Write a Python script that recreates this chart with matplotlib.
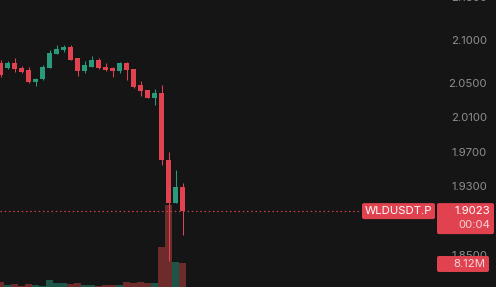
import numpy as np
import matplotlib.pyplot as plt
from matplotlib.patches import FancyBboxPatch

# candles (price)
opens  = [2.0741, 2.0683, 2.0741, 2.0683, 2.0660, 2.0521, 2.0556, 2.0683, 2.0846,
          2.0892, 2.0927, 2.0799, 2.0648, 2.0695, 2.0776, 2.0695, 2.0683, 2.0648,
          2.0741, 2.0672, 2.0486, 2.0428, 2.0335, 2.0393, 1.9612, 1.9117, 1.9303]
highs  = [2.0776, 2.0765, 2.0799, 2.0707, 2.0695, 2.0567, 2.0718, 2.0892, 2.0950,
          2.0950, 2.0950, 2.0799, 2.0765, 2.0823, 2.0799, 2.0741, 2.0695, 2.0753,
          2.0753, 2.0672, 2.0532, 2.0428, 2.0440, 2.0486, 1.9709, 1.9500, 1.9349]
lows   = [2.0579, 2.0672, 2.0637, 2.0625, 2.0509, 2.0474, 2.0544, 2.0683, 2.0846,
          2.0869, 2.0776, 2.0590, 2.0625, 2.0695, 2.0672, 2.0648, 2.0579, 2.0625,
          2.0544, 2.0451, 2.0358, 2.0335, 2.0254, 1.9558, 1.8450, 1.9117, 1.8746]
closes = [2.0602, 2.0741, 2.0672, 2.0637, 2.0521, 2.0556, 2.0695, 2.0857, 2.0904,
          2.0927, 2.0776, 2.0648, 2.0718, 2.0776, 2.0683, 2.0660, 2.0648, 2.0741,
          2.0660, 2.0463, 2.0416, 2.0335, 2.0393, 1.9612, 1.9117, 1.9303, 1.9023]
# volume in millions
volumes = [1.7, 0.7, 1.0, 0.4, 1.0, 0.7, 0.4, 2.4, 1.4, 1.4, 1.0, 1.4, 0.7, 0.7,
           0.4, 0.7, 0.7, 0.7, 1.7, 1.4, 1.7, 1.4, 1.4, 13.5, 27.7, 8.4, 8.12]

# 1.8900 sits fully behind the price label, so it is left out
price_ticks = [2.15, 2.10, 2.05, 2.01, 1.97, 1.93, 1.85]
symbol = "WLDUSDT.P"
countdown = "00:04"
last_vol_label = "8.12M"

bg = "#151515"
red = "#e0434f"
green = "#2a9a7c"
red_vol = "#6e2b2c"
green_vol = "#1d5548"
tick_col = "#8e8e8e"

W, H = 496, 287
fig = plt.figure(figsize=(W / 100, H / 100), dpi=100)
fig.patch.set_facecolor(bg)

ax = fig.add_axes([0, 0, 1, 1])
vax = ax.twinx()
ax.set_zorder(vax.get_zorder() + 1)
ax.patch.set_visible(False)

px = 7.0  # pixels per candle
ax.set_xlim(-0.5 / px, (W - 0.5) / px)
ax.set_ylim(2.10 - 246.3 / 862, 2.10 + 40.7 / 862)
vax.set_ylim(0, 97)

x = np.arange(len(opens))
o = np.array(opens); c = np.array(closes)
up = c >= o
cols = np.where(up, green, red)

# volume
vax.bar(x, volumes, width=0.86, color=np.where(up, green_vol, red_vol), linewidth=0)

# candles
ax.vlines(x, lows, highs, colors=cols, linewidth=0.75)
ax.bar(x, np.abs(c - o), bottom=np.minimum(o, c), width=0.72, color=cols, linewidth=0)

last = closes[-1]
ax.axhline(last, xmin=0, xmax=360 / W, color="#c9404a", linewidth=0.9,
           linestyle=(0, (1.2, 2.2)))

for a in (ax, vax):
    a.set_xticks([]); a.set_yticks([])
    for s in a.spines.values():
        s.set_visible(False)

font = "Inter"
for t in price_ticks:
    ax.text(487 / W, t, f"{t:.4f}", transform=ax.get_yaxis_transform(), ha="right",
            va="center", color=tick_col, fontsize=8.2, family=font, zorder=3)

# label boxes, pixel coords from the top-left
def box(x0, y0, w, h):
    r = FancyBboxPatch((x0 / W, 1 - (y0 + h) / H), w / W, h / H,
                       boxstyle="round,pad=0,rounding_size=0.004",
                       transform=fig.transFigure, facecolor=red, edgecolor="none",
                       zorder=5, mutation_aspect=W / H)
    fig.add_artist(r)

yl = H - ax.transData.transform((0, last))[1]
box(362, yl - 8, 73, 16)
fig.text(398.5 / W, 1 - yl / H, symbol, ha="center", va="center", color="white",
         fontsize=8.2, family=font, zorder=6)
box(437, yl - 8, 57, 31)
fig.text(490 / W, 1 - yl / H, f"{last:.4f}", ha="right", va="center", color="white",
         fontsize=8.2, family=font, zorder=6)
fig.text(490 / W, 1 - (yl + 14) / H, countdown, ha="right", va="center", color="#f3d6d8",
         fontsize=8.2, family=font, zorder=6)

yv = H - vax.transData.transform((0, volumes[-1]))[1]
box(437, yv - 7, 52, 16)
fig.text(485 / W, 1 - (yv + 1) / H, last_vol_label, ha="right", va="center", color="#f3d6d8",
         fontsize=8.2, family=font, zorder=6)

fig.savefig("out.png", dpi=100, facecolor=bg)
